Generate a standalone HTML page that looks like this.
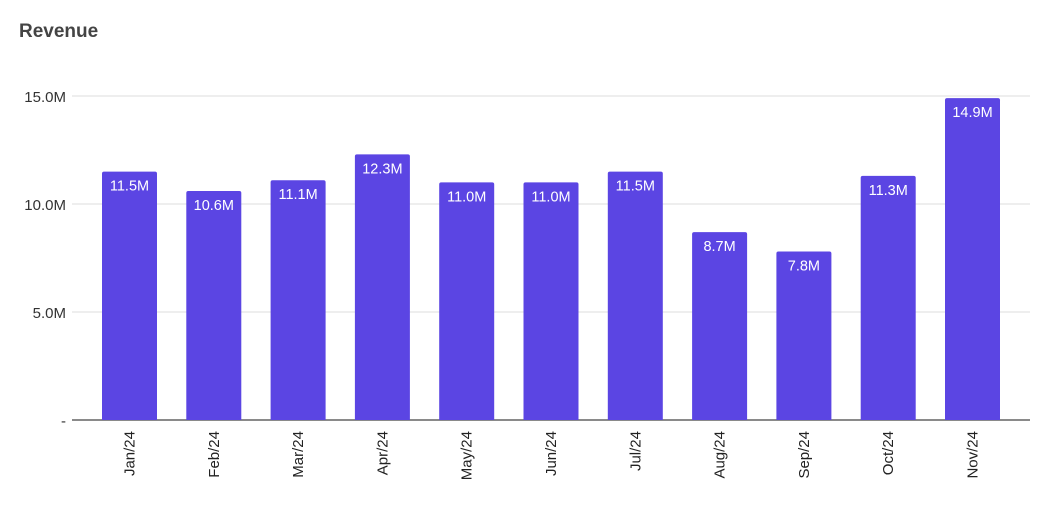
<!DOCTYPE html>
<html><head><meta charset="utf-8"><style>
body{margin:0;background:#fff;font-family:"Liberation Sans",Arial,sans-serif}
svg{display:block}
</style></head><body>
<svg width="1050" height="510">
<text x="19" y="37" font-size="19" font-weight="bold" fill="#444">Revenue</text>
<g id="grid"></g><g id="bars"></g><g id="xl"></g>
</svg>
<script>
const categories=["Jan/24","Feb/24","Mar/24","Apr/24","May/24","Jun/24","Jul/24","Aug/24","Sep/24","Oct/24","Nov/24"];
const values=[11.5,10.6,11.1,12.3,11.0,11.0,11.5,8.7,7.8,11.3,14.9];
const tickValues=[0,5,10,15];
const tickLabels=["-","5.0M","10.0M","15.0M"];
const NS="http://www.w3.org/2000/svg";
const y0=420,pxPer=21.6,x0=102,step=84.3,bw=55;
const y=v=>y0-v*pxPer, x=i=>x0+i*step;
function mk(t,a,p){const e=document.createElementNS(NS,t);for(const k in a)e.setAttribute(k,a[k]);p.appendChild(e);return e;}
const g=document.getElementById('grid'),b=document.getElementById('bars'),xl=document.getElementById('xl');
tickValues.forEach((v,i)=>{
 const l=mk('line',{x1:72,x2:1030,y1:y(v),y2:y(v),stroke:i==0?'#444':'#ddd','stroke-width':i==0?1.3:1},g);
 
 
 const t=mk('text',{x:66,y:y(v)+6,'text-anchor':'end','font-size':15,fill:'#333'},g);
 t.textContent=tickLabels[i];
 
 
});
values.forEach((v,i)=>{
 const top=y(v);
 const r=mk('path',{d:`M${x(i)},${y0}V${top+2}Q${x(i)},${top} ${x(i)+2},${top}H${x(i)+bw-2}Q${x(i)+bw},${top} ${x(i)+bw},${top+2}V${y0}Z`,fill:'#5b45e3'},b);
 
 
 const t=mk('text',{x:x(i)+bw/2,y:top+19,'text-anchor':'middle','font-size':14.5,fill:'#fff'},b);
 t.textContent=v.toFixed(1)+'M';
 
 
 const cx=x(i)+bw/2;
 const c=mk('text',{x:0,y:0,'text-anchor':'end','font-size':15,fill:'#222',transform:`translate(${cx+5},431) rotate(-90)`},xl);
 c.textContent=categories[i];
 
 
});
</script>
</body></html>
